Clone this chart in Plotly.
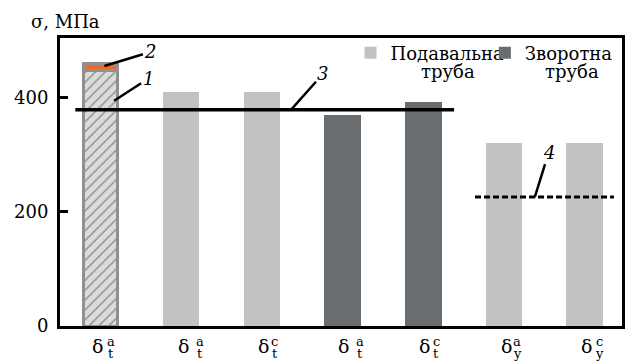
import plotly.graph_objects as go

# ---- data ----
positions = [0, 1, 2, 3, 4, 5, 6]
sup_labels = ["a", "a", "c", "a", "c", "a", "c"]
sub_labels = ["t", "t", "t", "t", "t", "y", "y"]

bar1_base = [448]      # component 1 (hatched)
bar1_top = [12]        # component 2 (orange)
supply_x = [1, 2, 5, 6]
supply_y = [410, 410, 321, 321]
return_x = [3, 4]
return_y = [370, 393]

line3_x = [-0.31, 4.38]
line3_y = [379, 379]
line4_x = [4.64, 6.36]
line4_y = [226, 226]

yticks = [0, 200, 400]

# ---- style ----
FONT = "DejaVu Serif"
LIGHT = "#c1c2c4"
DARK = "#6a6d6f"

fig = go.Figure()

fig.add_trace(go.Bar(
    x=[0], y=bar1_base, width=0.42, showlegend=False,
    marker=dict(color="#dcdddb", line=dict(color="#8e9091", width=2.5),
                pattern=dict(shape="/", fgcolor="#111111", bgcolor="#dcdddb",
                             size=7, solidity=0.17)),
))
fig.add_trace(go.Bar(
    x=[0], y=bar1_top, width=0.42, showlegend=False,
    marker=dict(color="#f06a2a", line=dict(color="#8e9091", width=2.5)),
))
fig.add_trace(go.Bar(
    x=supply_x, y=supply_y, width=0.455, name="Подавальна",
    marker=dict(color=LIGHT, line=dict(width=0)), legend="legend",
))
fig.add_trace(go.Bar(
    x=return_x, y=return_y, width=0.455, name="Зворотна",
    marker=dict(color=DARK, line=dict(width=0)), legend="legend2",
))
fig.add_trace(go.Scatter(
    x=line3_x, y=line3_y, mode="lines", showlegend=False,
    line=dict(color="black", width=3.5),
))
fig.add_trace(go.Scatter(
    x=line4_x, y=line4_y, mode="lines", showlegend=False,
    line=dict(color="black", width=3, dash="6px,3px"),
))

delta_shift = [-2.5, 2.5, 2, 0.5, 1.5, 2, 1.5]
script_shift = [10.5, 18.5, 13, 17.5, 13, 13, 14.5]
annotations = []
for i, p in enumerate(positions):
    annotations.append(dict(x=p, y=0, xref="x", yref="paper", text="δ",
                            showarrow=False, xshift=delta_shift[i], yshift=-20,
                            xanchor="center", yanchor="middle",
                            font=dict(family=FONT, size=19, color="black")))
    annotations.append(dict(x=p, y=0, xref="x", yref="paper", text=sup_labels[i],
                            showarrow=False, xshift=script_shift[i], yshift=-15,
                            xanchor="center", yanchor="middle",
                            font=dict(family=FONT, size=13, color="black")))
    annotations.append(dict(x=p, y=0, xref="x", yref="paper", text=sub_labels[i],
                            showarrow=False, xshift=script_shift[i], yshift=-27,
                            xanchor="center", yanchor="middle",
                            font=dict(family=FONT, size=13, color="black")))

callouts = [
    ("2", 0.05, 456, 46, -14),
    ("1", 0.17, 395, 34, -22),
    ("3", 2.36, 379, 32, -36),
    ("4", 5.38, 226, 14, -45),
]
for t, x, y, ax, ay in callouts:
    annotations.append(dict(x=x, y=y, xref="x", yref="y", text="<i>%s</i>" % t,
                            showarrow=True, arrowhead=0, arrowwidth=2.5,
                            arrowcolor="black", ax=ax, ay=ay, standoff=0,
                            font=dict(family=FONT, size=18, color="black")))

annotations.append(dict(x=-0.056, y=1, xref="paper", yref="paper", text="σ, МПа",
                        showarrow=False, xanchor="left", yanchor="middle", yshift=17,
                        font=dict(family=FONT, size=18, color="black")))
annotations.append(dict(x=0.6897, y=0.885, xref="paper", yref="paper", text="труба",
                        showarrow=False, xanchor="center", yanchor="middle",
                        font=dict(family=FONT, size=18, color="black")))
annotations.append(dict(x=0.9116, y=0.885, xref="paper", yref="paper", text="труба",
                        showarrow=False, xanchor="center", yanchor="middle",
                        font=dict(family=FONT, size=18, color="black")))

fig.update_layout(
    width=632, height=362,
    margin=dict(l=59.5, r=7, t=38, b=36),
    paper_bgcolor="white", plot_bgcolor="white",
    barmode="stack",
    font=dict(family=FONT, size=18, color="black"),
    xaxis=dict(range=[-0.5, 6.46], showticklabels=False, ticks="",
               showgrid=False, zeroline=False, showline=True, mirror=True,
               linecolor="black", linewidth=3),
    yaxis=dict(range=[0, 505], tickvals=yticks, ticks="inside", ticklen=8,
               tickwidth=2.5, tickcolor="black", showgrid=False, zeroline=False,
               showline=True, mirror=True, linecolor="black", linewidth=3,
               tickfont=dict(family=FONT, size=18, color="black"),
               ticklabelstandoff=5),
    legend=dict(x=0.517, y=1.012, xanchor="left", yanchor="top",
                bgcolor="rgba(0,0,0,0)", borderwidth=0,
                font=dict(family=FONT, size=18, color="black")),
    legend2=dict(x=0.756, y=1.012, xanchor="left", yanchor="top",
                 bgcolor="rgba(0,0,0,0)", borderwidth=0,
                 font=dict(family=FONT, size=18, color="black")),
    annotations=annotations,
)

fig.write_html("out.html")
